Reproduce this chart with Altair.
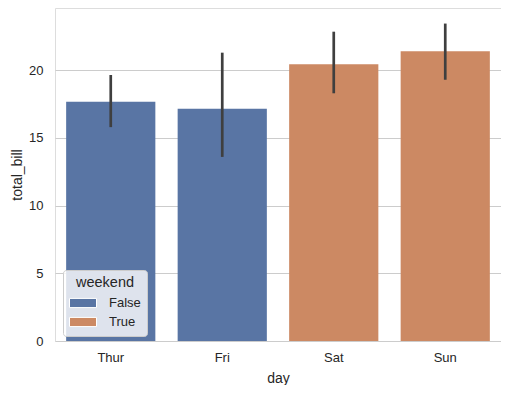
import altair as alt
import pandas as pd

days = ["Thur", "Fri", "Sat", "Sun"]
means = [17.68, 17.15, 20.44, 21.41]
ci_low = [15.8, 13.6, 18.3, 19.3]
ci_high = [19.65, 21.3, 22.85, 23.45]
weekend = ["False", "False", "True", "True"]

df = pd.DataFrame({"day": days, "total_bill": means, "lo": ci_low, "hi": ci_high, "weekend": weekend})

FONT = "Liberation Sans"
TXT = "#262626"

x = alt.X("day:N", sort=days, title="day",
          scale=alt.Scale(paddingInner=0.2, paddingOuter=0.1),
          axis=alt.Axis(labelAngle=0, ticks=False, domain=False, grid=False,
                        labelPadding=10, titlePadding=7, labelFontSize=13,
                        titleFontSize=14, labelColor=TXT, titleColor=TXT,
                        labelFont=FONT, titleFont=FONT, titleFontWeight="normal"))

bars = alt.Chart(df).mark_bar(stroke=None).encode(
    x=x,
    y=alt.Y("total_bill:Q", title="total_bill",
            scale=alt.Scale(domain=[0, 24.6], nice=False),
            axis=alt.Axis(values=[0, 5, 10, 15, 20], ticks=False, domain=False,
                          gridColor="#cccccc", gridWidth=1.2, labelPadding=12,
                          titlePadding=4, labelFontSize=13, titleFontSize=14,
                          labelColor=TXT, titleColor=TXT, labelFont=FONT,
                          titleFont=FONT, titleFontWeight="normal")),
    color=alt.Color("weekend:N",
                    scale=alt.Scale(domain=["False", "True"], range=["#5975a4", "#cc8963"]),
                    legend=alt.Legend(title="weekend", orient="none", legendX=8, legendY=262,
                                      padding=6, fillColor="rgba(255,255,255,0.8)",
                                      strokeColor="#cccccc", cornerRadius=3,
                                      titleAnchor="middle", titleFontSize=14.5,
                                      titleFontWeight="normal", titleColor=TXT, titleFont=FONT,
                                      labelFontSize=13, labelColor=TXT, labelFont=FONT,
                                      symbolType="M-1,-0.34H1V0.34H-1Z", symbolSize=729,
                                      symbolStrokeColor="white", symbolStrokeWidth=1,
                                      labelOffset=12, rowPadding=4, clipHeight=15,
                                      titlePadding=5)),
)

err = alt.Chart(df).mark_rule(color="#3f3f3f", strokeWidth=2.7).encode(
    x=alt.X("day:N", sort=days),
    y="lo:Q",
    y2="hi:Q",
)

chart = alt.layer(bars, err).properties(
    width=446, height=333,
    padding={"left": 47, "top": 0, "right": 0, "bottom": 44},
    autosize=alt.AutoSizeParams(type="none"),
).configure_view(stroke="#cccccc", strokeWidth=1.5).configure(background="white")

chart.save("out.html", embed_options={"renderer": "svg", "actions": False})
